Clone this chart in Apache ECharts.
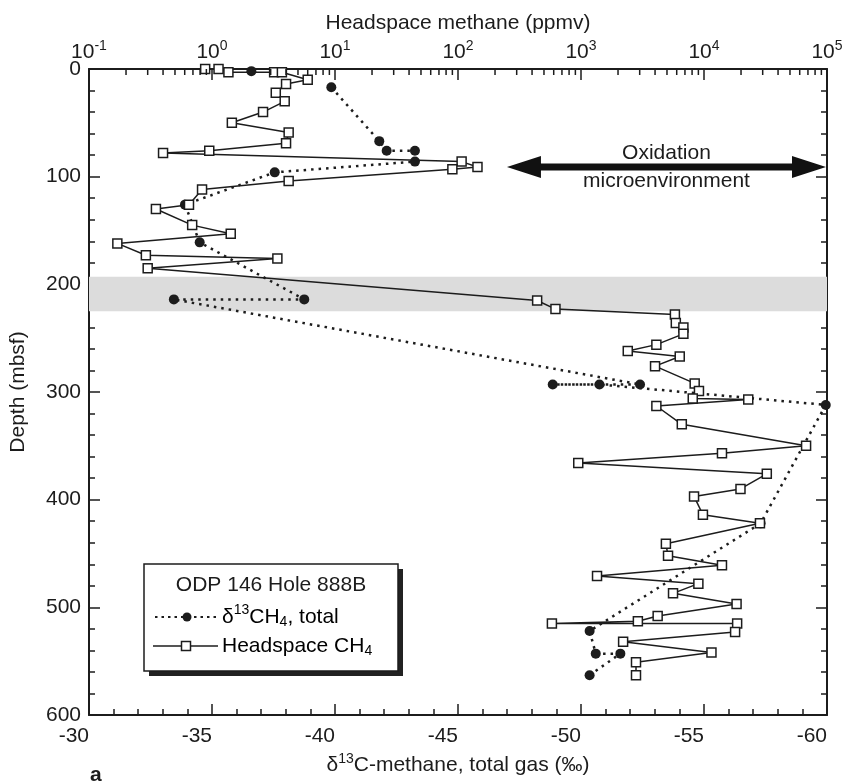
<!DOCTYPE html>
<html>
<head>
<meta charset="utf-8">
<script src="https://cdn.jsdelivr.net/npm/echarts@6/dist/echarts.min.js"></script>
<style>
  html, body { margin: 0; padding: 0; background: #fff; }
  #chart { width: 851px; height: 783px; }
</style>
</head>
<body>
<div id="chart"></div>
<script>
// ODP Leg 146, Hole 888B: headspace methane and δ13C of methane against depth

// Headspace CH4 (ppmv) by depth (mbsf)
const headDepth = [0, 0, 3, 3, 3, 10, 14, 22, 30, 40, 50, 59, 69, 76, 78, 86, 91, 93, 104, 112,
  126, 130, 145, 153, 162, 173, 176, 185, 215, 223, 228, 236, 240, 246, 256, 262, 267, 276, 292, 299,
  306, 307, 313, 330, 350, 357, 366, 376, 390, 397, 414, 422, 441, 452, 461, 471, 478, 487, 497, 508,
  513, 515, 515, 523, 532, 542, 551, 563];
const headPpmv = [0.88, 1.13, 1.36, 3.2, 3.7, 6.0, 4.0, 3.3, 3.9, 2.6, 1.45, 4.2, 4.0, 0.95, 0.4, 107, 144, 90, 4.2, 0.83,
  0.65, 0.35, 0.69, 1.42, 0.17, 0.29, 3.4, 0.3, 440, 620, 5800, 5900, 6800, 6800, 4100, 2400, 6350, 4000, 8400, 9100,
  8100, 22900, 4100, 6600, 67600, 14000, 950, 32400, 19800, 8300, 9800, 28500, 4900, 5100, 14000, 1350, 9000, 5600, 18400, 4200,
  2900, 580, 18600, 17900, 2200, 11500, 2800, 2800];

// δ13C of methane in total gas (‰ PDB) by depth (mbsf)
const d13Depth = [2, 17, 67, 76, 76, 86, 96, 126, 161, 214, 214, 293, 293, 293, 312, 422, 522, 543, 543, 563];
const d13Value = [-36.6, -39.85, -41.8, -42.1, -43.25, -43.25, -37.55, -33.9, -34.5, -38.75, -33.45,
  -52.4, -48.85, -50.75, -59.95, -57.3, -50.35, -50.6, -51.6, -50.35];
// the dotted profile starts a new segment at these indices
const d13SegmentStarts = [1];

// shaded depth interval (mbsf)
const shadedDepth = [193, 225];

// "Oxidation microenvironment" arrow: ppmv span and depth
const oxidationSpan = [250, 100000];
const oxidationDepth = 91;

// axis ticks
const depthTicks = [0, 100, 200, 300, 400, 500, 600];
const ppmvDecades = [0.1, 1, 10, 100, 1000, 10000, 100000];

const INK = '#1c1c1c';
const FONT = '"Liberation Sans", Arial, Helvetica, sans-serif';
const FS = 21;

// log minor tick positions (2..9 within each decade)
const ppmvMinor = [];
ppmvDecades.slice(0, -1).forEach(function (d) {
  for (let k = 2; k <= 9; k++) ppmvMinor.push(d * k);
});

const headData = headDepth.map(function (d, i) { return [headPpmv[i], d]; });
const d13Data = [];
d13Depth.forEach(function (d, i) {
  if (d13SegmentStarts.indexOf(i) >= 0) d13Data.push(['-', '-']);
  d13Data.push([d13Value[i], d]);
});

const supRich = {
  b: { fontSize: FS, fontFamily: FONT, color: INK },
  s: { fontSize: 14, fontFamily: FONT, color: INK, padding: [0, 0, 13, 0] },
  u: { fontSize: 14, fontFamily: FONT, color: INK, padding: [10, 0, 0, 0] }
};

const chart = echarts.init(document.getElementById('chart'), null, { renderer: 'canvas' });

const axisLine = { show: true, onZero: false, lineStyle: { color: INK, width: 2 } };
const tick = { show: true, inside: true, length: 11, lineStyle: { color: INK, width: 1.5 } };
const minor = { show: true, splitNumber: 5, length: 6, lineStyle: { color: INK, width: 1.5 } };

const option = {
  backgroundColor: '#ffffff',
  animation: false,
  grid: { left: 88, right: 24, top: 69, bottom: 68, containLabel: false },
  xAxis: [
    {
      type: 'value', position: 'bottom', inverse: true,
      min: -60, max: -30, interval: 5,
      axisLine: axisLine, axisTick: tick, minorTick: minor,
      splitLine: { show: false },
      axisLabel: { color: INK, fontSize: FS, fontFamily: FONT, margin: 11, align: 'right' },
      name: '{b|δ}{s|13}{b|C-methane, total gas (‰)}',
      nameLocation: 'middle', nameGap: 26,
      nameTextStyle: { rich: supRich }
    },
    {
      type: 'log', logBase: 10, position: 'top',
      min: 0.1, max: 100000, splitNumber: 6,
      axisLine: axisLine, axisTick: tick,
      minorTick: { show: false },
      splitLine: { show: false },
      axisLabel: {
        margin: 3,
        formatter: function (v) {
          const e = Math.round(Math.log10(v));
          return '{b|10}{s|' + e + '}';
        },
        rich: supRich
      },
      name: 'Headspace methane (ppmv)',
      nameLocation: 'middle', nameGap: 32,
      nameTextStyle: { color: INK, fontSize: FS, fontFamily: FONT }
    }
  ],
  yAxis: [
    {
      type: 'value', position: 'left', inverse: true,
      min: depthTicks[0], max: depthTicks[depthTicks.length - 1], interval: 100,
      axisLine: axisLine, axisTick: tick, minorTick: minor,
      splitLine: { show: false },
      axisLabel: { color: INK, fontSize: FS, fontFamily: FONT, margin: 8 },
      name: 'Depth (mbsf)', nameLocation: 'middle', nameGap: 60, nameRotate: 90,
      nameTextStyle: { color: INK, fontSize: FS, fontFamily: FONT }
    },
    {
      type: 'value', position: 'right', inverse: true,
      min: depthTicks[0], max: depthTicks[depthTicks.length - 1], interval: 100,
      axisLine: axisLine, axisTick: tick, minorTick: minor,
      splitLine: { show: false },
      axisLabel: { show: false }
    }
  ],
  series: [
    {
      name: 'δ13CH4, total', type: 'line',
      xAxisIndex: 0, yAxisIndex: 0,
      data: d13Data, connectNulls: false, clip: false,
      symbol: 'circle', symbolSize: 10,
      itemStyle: { color: INK },
      lineStyle: { color: INK, width: 2.5, type: [2.5, 5], cap: 'butt' },
      z: 3,
      markArea: {
        silent: true,
        itemStyle: { color: '#dcdcdc' },
        data: [[{ yAxis: shadedDepth[0] }, { yAxis: shadedDepth[1] }]]
      }
    },
    {
      name: 'Headspace CH4', type: 'line',
      xAxisIndex: 1, yAxisIndex: 0,
      data: headData, clip: false,
      symbol: 'rect', symbolSize: 9,
      itemStyle: { color: '#ffffff', borderColor: INK, borderWidth: 1.5 },
      lineStyle: { color: INK, width: 1.5 },
      z: 4
    },
    {
      // minor ticks of the logarithmic ppmv axis
      type: 'custom', xAxisIndex: 1, yAxisIndex: 0, silent: true, clip: false,
      data: ppmvMinor.map(function (v) { return [v, 0]; }),
      renderItem: function (params, api) {
        const p = api.coord([api.value(0), 0]);
        return {
          type: 'line',
          shape: { x1: p[0], y1: p[1], x2: p[0], y2: p[1] + 6 },
          style: { stroke: INK, lineWidth: 1.5 }
        };
      },
      z: 5
    }
  ]
};

chart.setOption(option);

// annotation and key, placed from axis coordinates
const a0 = chart.convertToPixel({ xAxisIndex: 1, yAxisIndex: 0 }, [oxidationSpan[0], oxidationDepth]);
const a1 = chart.convertToPixel({ xAxisIndex: 1, yAxisIndex: 0 }, [oxidationSpan[1], oxidationDepth]);
const x1 = a0[0], x2 = a1[0] - 1, y0 = a0[1];
const head = 34, hw = 11, sw = 3.5;
const arrowPts = [
  [x1, y0], [x1 + head, y0 - hw], [x1 + head, y0 - sw], [x2 - head, y0 - sw], [x2 - head, y0 - hw],
  [x2, y0], [x2 - head, y0 + hw], [x2 - head, y0 + sw], [x1 + head, y0 + sw], [x1 + head, y0 + hw]
];
const midX = (x1 + x2) / 2;

const keyX = 144, keyY = 564, keyW = 254, keyH = 107;

chart.setOption({
  graphic: [
    { type: 'polygon', shape: { points: arrowPts }, style: { fill: '#111' }, z: 10 },
    { type: 'text', x: midX, y: y0 - 14, style: { text: 'Oxidation', font: FS + 'px ' + FONT, fill: INK, align: 'center', verticalAlign: 'middle' }, z: 10 },
    { type: 'text', x: midX, y: y0 + 14, style: { text: 'microenvironment', font: FS + 'px ' + FONT, fill: INK, align: 'center', verticalAlign: 'middle' }, z: 10 },

    // key box with drop shadow
    { type: 'rect', shape: { x: keyX + 5, y: keyY + 5, width: keyW, height: keyH }, style: { fill: '#222' }, z: 20 },
    { type: 'rect', shape: { x: keyX, y: keyY, width: keyW, height: keyH }, style: { fill: '#fff', stroke: INK, lineWidth: 1.5 }, z: 21 },
    { type: 'text', x: keyX + keyW / 2, y: keyY + 21, style: { text: 'ODP 146 Hole 888B', font: FS + 'px ' + FONT, fill: INK, align: 'center', verticalAlign: 'middle' }, z: 22 },
    { type: 'line', shape: { x1: keyX + 11, y1: keyY + 53, x2: keyX + 76, y2: keyY + 53 }, style: { stroke: INK, lineWidth: 2, lineDash: [2.5, 4] }, z: 22 },
    { type: 'circle', shape: { cx: keyX + 43, cy: keyY + 53, r: 4.5 }, style: { fill: INK }, z: 23 },
    { type: 'text', x: keyX + 78, y: keyY + 53, style: { text: '{b|δ}{s|13}{b|CH}{u|4}{b|, total}', rich: supRich, align: 'left', verticalAlign: 'middle' }, z: 22 },
    { type: 'line', shape: { x1: keyX + 9, y1: keyY + 82, x2: keyX + 74, y2: keyY + 82 }, style: { stroke: INK, lineWidth: 1.5 }, z: 22 },
    { type: 'rect', shape: { x: keyX + 37.5, y: keyY + 77.5, width: 9, height: 9 }, style: { fill: '#fff', stroke: INK, lineWidth: 1.5 }, z: 23 },
    { type: 'text', x: keyX + 78, y: keyY + 82, style: { text: '{b|Headspace CH}{u|4}', rich: supRich, align: 'left', verticalAlign: 'middle' }, z: 22 },

    // panel letter
    { type: 'text', x: 90, y: 775, style: { text: 'a', font: 'bold ' + FS + 'px ' + FONT, fill: INK, align: 'left', verticalAlign: 'middle' }, z: 10 }
  ]
});
</script>
</body>
</html>
